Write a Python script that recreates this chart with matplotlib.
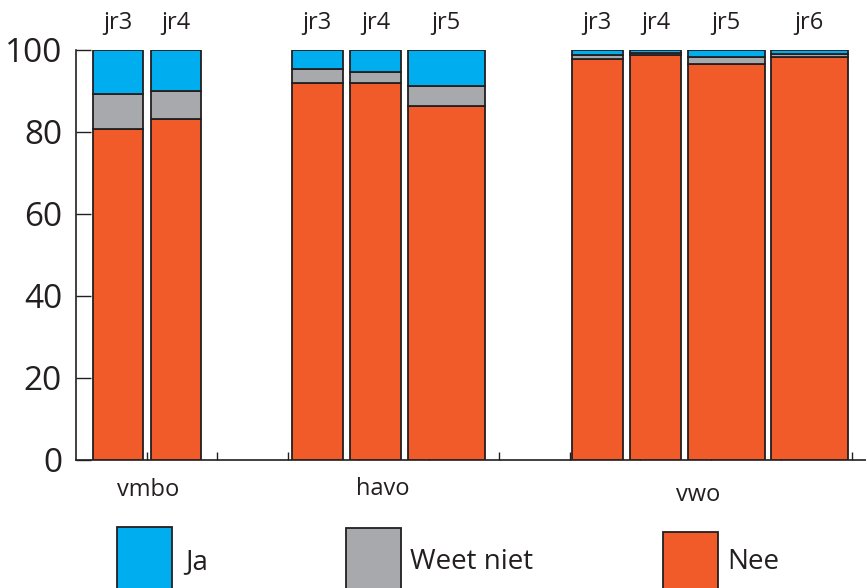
import matplotlib
matplotlib.use("Agg")
import matplotlib.pyplot as plt
from matplotlib.patches import Rectangle

plt.rcParams['font.family'] = ['Open Sans', 'DejaVu Sans']

# ---- data ----
groups = ["vmbo", "havo", "vwo"]
years = ["jr3", "jr4", "jr3", "jr4", "jr5", "jr3", "jr4", "jr5", "jr6"]
nee = [80.8, 83.1, 92.0, 92.0, 86.3, 97.8, 98.8, 96.5, 98.4]
weet_niet = [8.5, 6.8, 3.4, 2.6, 5.0, 1.1, 0.5, 1.9, 0.6]
ja = [10.7, 10.1, 4.6, 5.4, 8.7, 1.1, 0.7, 1.6, 1.0]
legend_labels = ["Ja", "Weet niet", "Nee"]
yticks = [0, 20, 40, 60, 80, 100]

# ---- layout (positions in category units) ----
bar_centers = [0.596, 1.42, 3.42, 4.245, 5.25, 7.39, 8.215, 9.22, 10.395]
bar_widths = [0.71, 0.71, 0.72, 0.72, 1.09, 0.72, 0.72, 1.09, 1.09]
group_centers = [1.02, 4.35, 8.82]
group_label_y = [-7.3, -7.0, -8.6]

c_ja = "#00AEEF"
c_wn = "#A7A9AC"
c_nee = "#F15A29"
edge = "#231F20"

fig = plt.figure(figsize=(8.66, 5.88), dpi=100)
ax = fig.add_axes([76/866, 128/588, 790/866, 410/588])

bottom_wn = nee
bottom_ja = [a + b for a, b in zip(nee, weet_niet)]
kw = dict(edgecolor=edge, linewidth=1.3, zorder=3)
ax.bar(bar_centers, nee, width=bar_widths, color=c_nee, **kw)
ax.bar(bar_centers, weet_niet, width=bar_widths, bottom=bottom_wn, color=c_wn, **kw)
ax.bar(bar_centers, ja, width=bar_widths, bottom=bottom_ja, color=c_ja, **kw)

ax.set_xlim(0, 11.2)
ax.set_ylim(0, 100)
ax.spines['top'].set_visible(False)
ax.spines['right'].set_visible(False)
for s in ('left', 'bottom'):
    ax.spines[s].set_color(edge)
    ax.spines[s].set_linewidth(1.2)
    ax.spines[s].set_zorder(2)

ax.set_yticks(yticks)
ax.set_yticklabels([str(v) for v in yticks])
ax.tick_params(axis='y', direction='in', length=11, width=1.0, color=edge,
               labelsize=24, pad=10, labelcolor=edge)
ax.set_xticks(list(range(1, 12)))
ax.set_xticklabels([])
ax.tick_params(axis='x', direction='in', length=6, width=1.0, color=edge)
ax.set_axisbelow(True)

for x, lab in zip(bar_centers, years):
    ax.text(x, 106.5, lab, ha='center', va='center', fontsize=17, color=edge,
            clip_on=False)
for x, y, lab in zip(group_centers, group_label_y, groups):
    ax.text(x, y, lab, ha='center', va='center', fontsize=17, color=edge,
            clip_on=False)

# legend drawn as figure-level squares (cut off at bottom like reference)
W, H = 866, 588
leg_boxes = [(117, 527, c_ja), (346, 528, c_wn), (663, 532, c_nee)]
leg_text_x = [185, 410, 727]
for (x0, ytop, col), tx, lab in zip(leg_boxes, leg_text_x, legend_labels):
    r = Rectangle((x0 / W, (H - ytop - 70) / H), 55 / W, 70 / H,
                  transform=fig.transFigure, facecolor=col, edgecolor=edge,
                  linewidth=1.3)
    fig.add_artist(r)
    fig.text(tx / W, (H - 562) / H, lab, ha='left', va='center', fontsize=20,
             color=edge)

fig.savefig("out.png", dpi=100)
